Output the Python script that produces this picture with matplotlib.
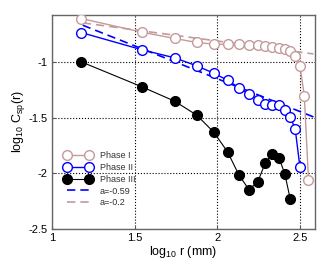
import numpy as np
import matplotlib
matplotlib.use("Agg")
import matplotlib.pyplot as plt

plt.rcParams["font.family"] = ["Liberation Sans", "DejaVu Sans"]
plt.rcParams["mathtext.fontset"] = "custom"
plt.rcParams["mathtext.rm"] = "Liberation Sans"
plt.rcParams["mathtext.it"] = "Liberation Sans"

# distances r (mm)
r1 = [15, 35, 55, 75, 95, 115, 135, 155, 175, 195, 215, 235, 255, 275, 295, 315, 335, 355]
r2 = [15, 35, 55, 75, 95, 115, 135, 155, 175, 195, 215, 235, 255, 275, 295, 315]
r3 = [15, 35, 55, 75, 95, 115, 135, 155, 175, 195, 215, 235, 255, 275]

# log10 Csp(r)
fase1 = [-0.611, -0.734, -0.790, -0.826, -0.841, -0.844, -0.844, -0.847, -0.853,
         -0.856, -0.865, -0.874, -0.886, -0.904, -0.946, -1.036, -1.305, -2.057]
fase2 = [-0.737, -0.892, -0.964, -1.036, -1.102, -1.165, -1.234, -1.290, -1.341,
         -1.380, -1.389, -1.386, -1.434, -1.494, -1.602, -1.943]
fase3 = [-1.0, -1.225, -1.353, -1.479, -1.632, -1.808, -2.018, -2.147, -2.078,
         -1.904, -1.829, -1.859, -2.003, -2.228]

# ajustes lineares (inclinação, intercepto)
ajuste_azul = (-0.59, 0.028)
ajuste_rosa = (-0.2, -0.413)
x_ajuste = [1.185, 2.58]

cor_rosa = "#c49a9a"

fig = plt.figure(figsize=(3.32, 2.69), dpi=100)
ax = fig.add_axes([0.157, 0.149, 0.792, 0.795])

ax.plot(np.log10(r1), fase1, "-o", color=cor_rosa, mfc="white", mec=cor_rosa,
        ms=7, mew=1, lw=1, label="Phase I", zorder=3)
ax.plot(np.log10(r2), fase2, "-o", color="blue", mfc="white", mec="blue",
        ms=7, mew=1, lw=1, label="Phase II", zorder=3)
ax.plot(np.log10(r3), fase3, "-o", color="black", mfc="black", mec="black",
        ms=7, mew=1, lw=0.8, label="Phase III", zorder=3)

xa = np.array(x_ajuste)
ax.plot(xa, ajuste_azul[0] * xa + ajuste_azul[1], "--", color="blue", lw=1.2,
        dashes=(5, 3), label="a=-0.59", zorder=2)
ax.plot(xa, ajuste_rosa[0] * xa + ajuste_rosa[1], "--", color=cor_rosa, lw=1.2,
        dashes=(5, 3), label="a=-0.2", zorder=2)

ax.set_xlim(1, 2.59)
ax.set_ylim(-2.5, -0.58)
ax.set_xticks([1, 1.5, 2, 2.5])
ax.set_xticklabels(["1", "1.5", "2", "2.5"])
ax.set_yticks([-2.5, -2, -1.5, -1])
ax.set_yticklabels(["-2.5", "-2", "-1.5", "-1"])
ax.tick_params(labelsize=8, direction="in", length=2, color="#555555", pad=3)
ax.grid(True, linestyle=":", color="black", lw=0.8)

for s in ax.spines.values():
    s.set_color("#666666")
    s.set_linewidth(1)

ax.set_xlabel("log$_{10}$ r (mm)", fontsize=9, labelpad=1)
ax.set_ylabel("log$_{10}$ C$_{sp}$(r)", fontsize=9, labelpad=1)

leg = ax.legend(loc="lower left", bbox_to_anchor=(0.03, 0.08), frameon=False,
                fontsize=6.5, numpoints=2, handlelength=3.0, handletextpad=0.9,
                labelspacing=0.3, borderpad=0)
for t in leg.get_texts():
    t.set_color("#333333")

fig.savefig("out.png", dpi=100)
